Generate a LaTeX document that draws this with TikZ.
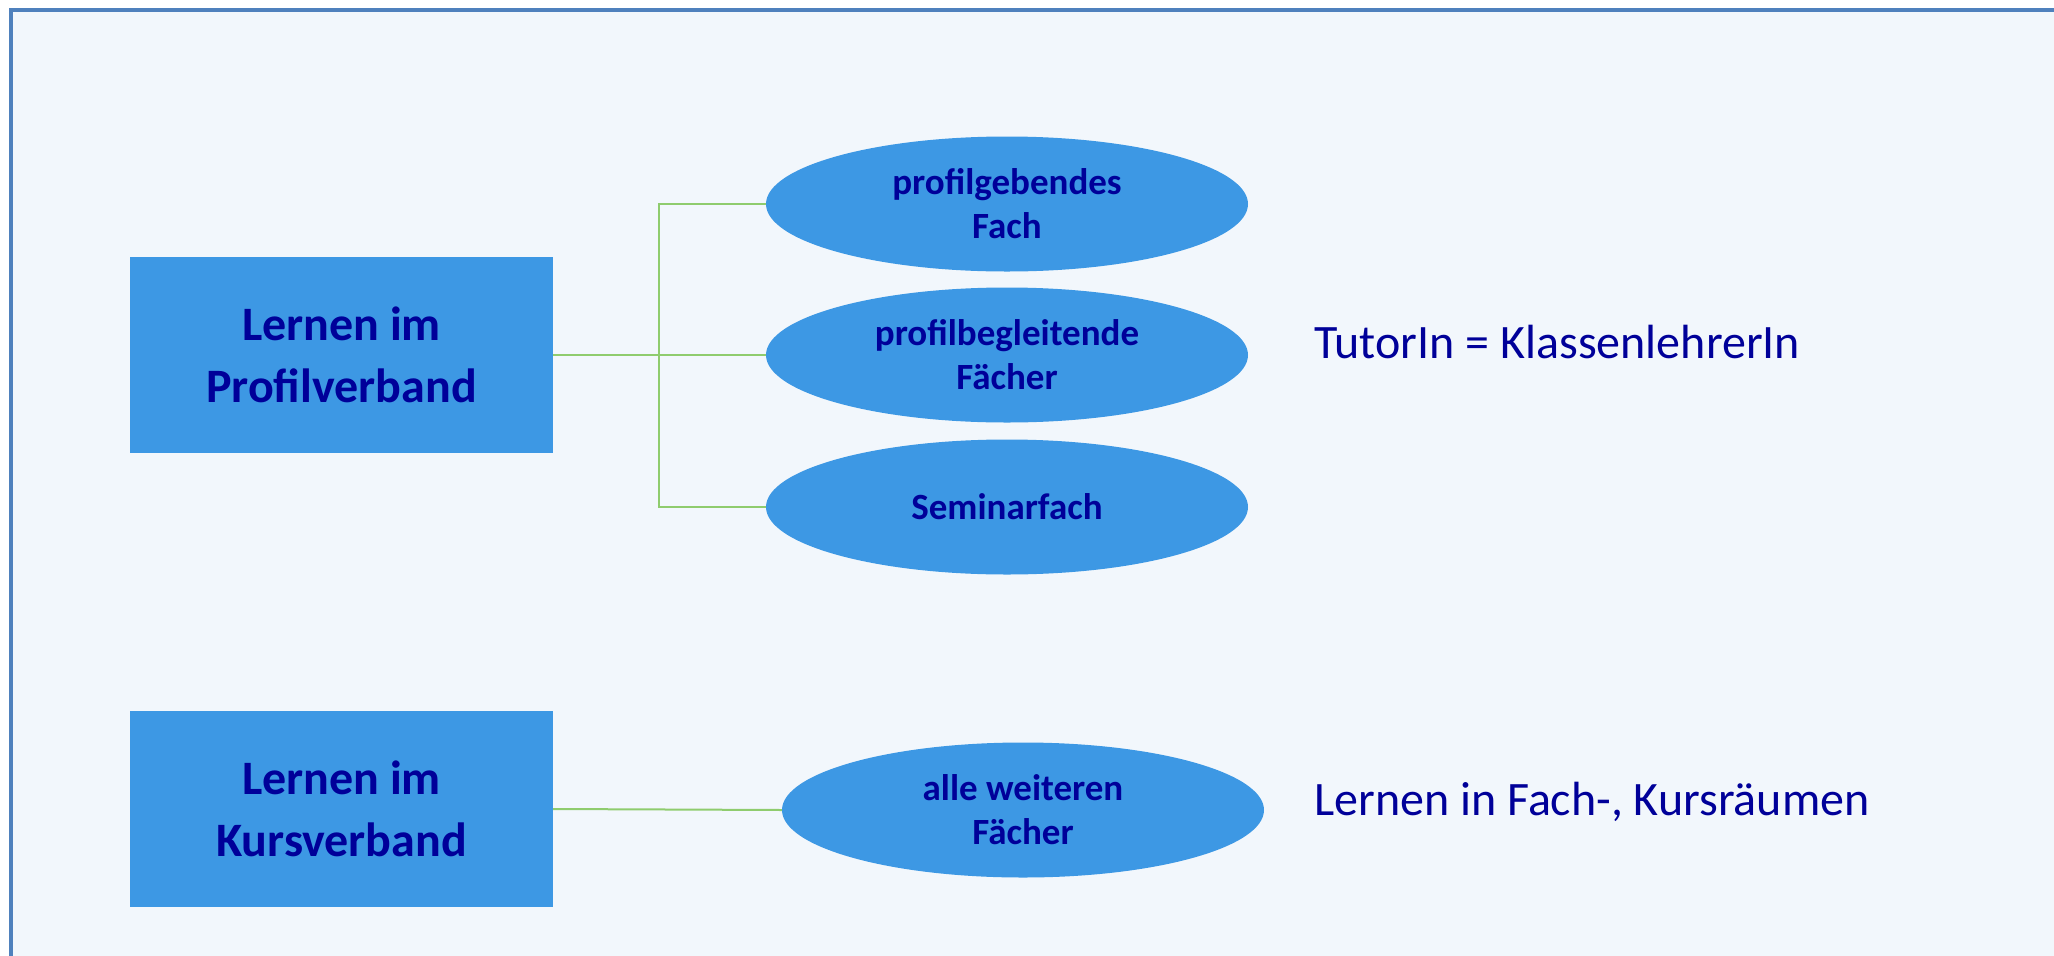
\documentclass[tikz,border=0pt]{standalone}
\usepackage{fontspec}
\setmainfont{Carlito}
\usetikzlibrary{shapes.geometric}
\definecolor{bgc}{HTML}{F2F7FC}
\definecolor{framec}{HTML}{4F81BD}
\definecolor{boxc}{HTML}{3D98E4}
\definecolor{txtc}{HTML}{000099}
\definecolor{linec}{HTML}{8FCC6E}
\tikzset{
  bigbox/.style={rectangle, fill=boxc, inner sep=0pt, minimum width=423pt, minimum height=196pt, align=center, text=txtc, font=\bfseries\fontsize{48}{62}\selectfont},
  oval/.style={ellipse, fill=boxc, inner sep=0pt, minimum width=482pt, minimum height=135pt, align=center, text=txtc, font=\bfseries\fontsize{37}{44}\selectfont},
  note/.style={anchor=west, inner sep=0pt, text=txtc, font=\fontsize{48}{58}\selectfont},
  conn/.style={draw=linec, line width=2pt}
}
\begin{document}
\begin{tikzpicture}[x=1pt,y=-1pt]
\useasboundingbox (0,0) rectangle (2054,956);
\fill[white] (0,0) rectangle (2054,956);
\fill[bgc] (11,10) rectangle (2080,980);
\draw[framec, line width=4pt] (11,980) -- (11,10) -- (2080,10);

\node[bigbox] (b1) at (341.5,355) {Lernen im\\Profilverband};
\node[bigbox] (b2) at (341.5,809) {Lernen im\\Kursverband};

\node[oval] (e1) at (1007,204) {profilgebendes\\Fach};
\node[oval] (e2) at (1007,355) {profilbegleitende\\Fächer};
\node[oval] (e3) at (1007,507) {Seminarfach};
\node[oval] (e4) at (1023,810) {alle weiteren\\Fächer};

\coordinate (jn) at (659,355);
\draw[conn] (b1.east) -- (e2.west);
\draw[conn] (e1.west) -| (jn);
\draw[conn] (e3.west) -| (jn);
\draw[conn] (b2.east) -- (e4.west);

\node[note] (t1) at (1314,342) {TutorIn = KlassenlehrerIn};
\node[note] (t2) at (1314,802) {Lernen in Fach-, Kursräumen};
\end{tikzpicture}
\end{document}
